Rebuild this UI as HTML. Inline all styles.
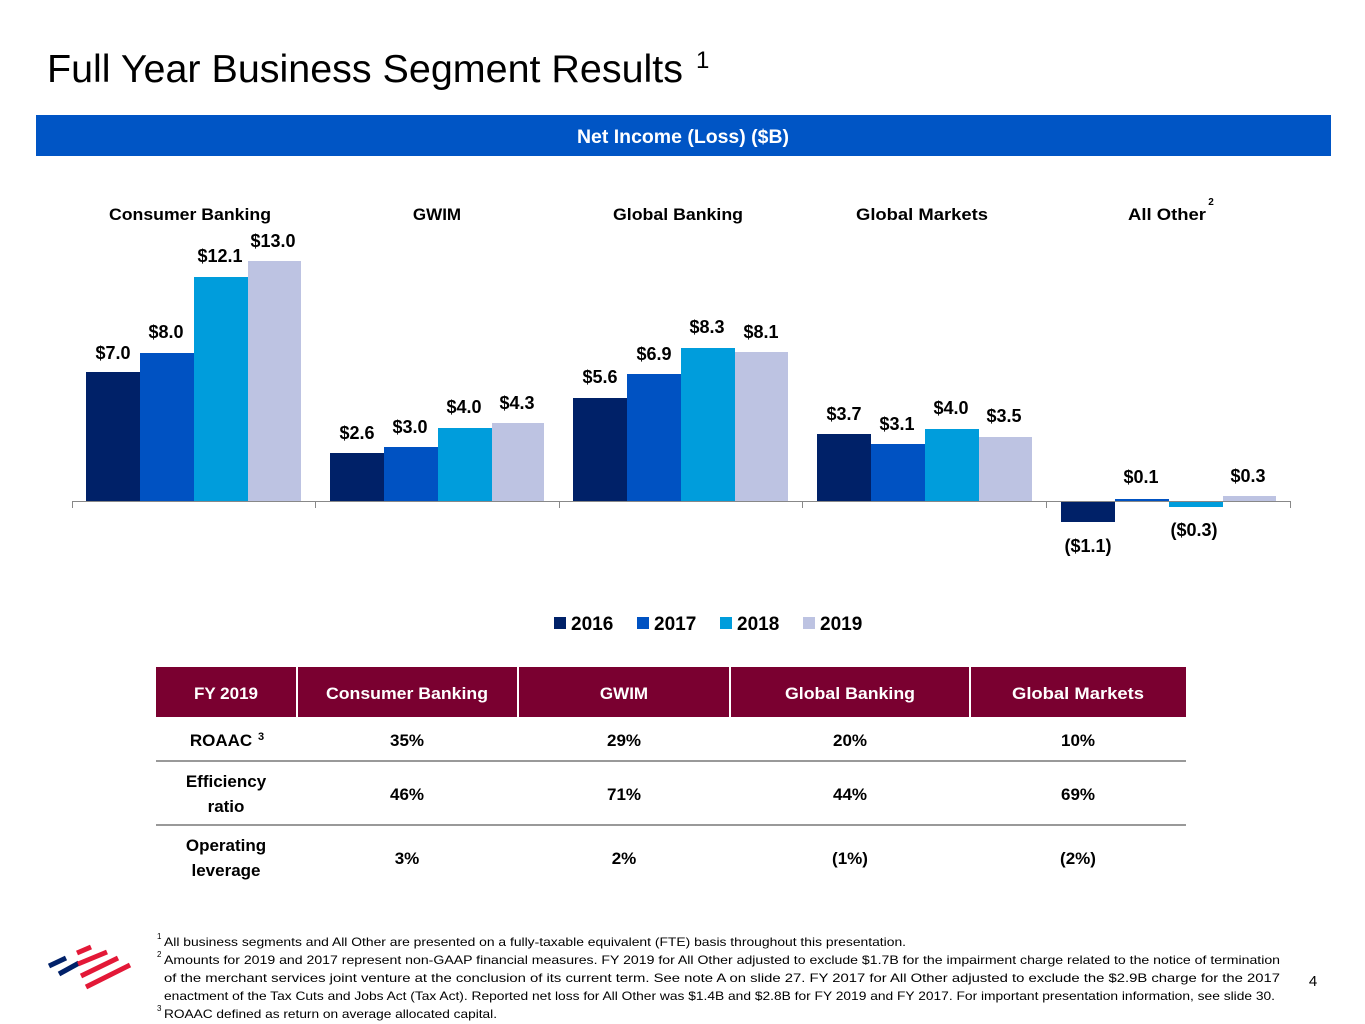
<!DOCTYPE html>
<html><head><meta charset="utf-8"><style>
html,body{margin:0;padding:0;background:#fff;}
svg{display:block;font-family:"Liberation Sans",sans-serif;}
.b{font-weight:bold;}
</style></head><body>
<svg width="1365" height="1024" viewBox="0 0 1365 1024" xmlns="http://www.w3.org/2000/svg">
<rect width="1365" height="1024" fill="#fff"/>
<text x="47" y="82" font-size="39" fill="#000" textLength="636" lengthAdjust="spacingAndGlyphs">Full Year Business Segment Results</text>
<text x="696" y="68" font-size="24" fill="#000">1</text>
<rect x="36" y="115" width="1295" height="41" fill="#0055c5"/>
<text x="683" y="143" font-size="19" fill="#fff" class="b" text-anchor="middle" textLength="212" lengthAdjust="spacingAndGlyphs">Net Income (Loss) ($B)</text>

<g font-size="17" class="b" fill="#000" text-anchor="middle">
<text x="190" y="220" textLength="162" lengthAdjust="spacingAndGlyphs">Consumer Banking</text>
<text x="437" y="220">GWIM</text>
<text x="678" y="220" textLength="130" lengthAdjust="spacingAndGlyphs">Global Banking</text>
<text x="922" y="220" textLength="132" lengthAdjust="spacingAndGlyphs">Global Markets</text>
<text x="1167" y="220" textLength="78" lengthAdjust="spacingAndGlyphs">All Other</text>
<text x="1211" y="205" font-size="10">2</text>
</g>

<g>
<rect x="86" y="372" width="54" height="129" fill="#002168"/>
<rect x="140" y="353" width="54" height="148" fill="#0052c2"/>
<rect x="194" y="277" width="54" height="224" fill="#009ddc"/>
<rect x="248" y="261" width="53" height="240" fill="#bdc3e2"/>

<rect x="330" y="453" width="54" height="48" fill="#002168"/>
<rect x="384" y="447" width="54" height="54" fill="#0052c2"/>
<rect x="438" y="428" width="54" height="73" fill="#009ddc"/>
<rect x="492" y="423" width="52" height="78" fill="#bdc3e2"/>

<rect x="573" y="398" width="54" height="103" fill="#002168"/>
<rect x="627" y="374" width="54" height="127" fill="#0052c2"/>
<rect x="681" y="348" width="54" height="153" fill="#009ddc"/>
<rect x="735" y="352" width="53" height="149" fill="#bdc3e2"/>

<rect x="817" y="434" width="54" height="67" fill="#002168"/>
<rect x="871" y="444" width="54" height="57" fill="#0052c2"/>
<rect x="925" y="429" width="54" height="72" fill="#009ddc"/>
<rect x="979" y="437" width="53" height="64" fill="#bdc3e2"/>

<rect x="1061" y="501" width="54" height="21" fill="#002168"/>
<rect x="1115" y="499" width="54" height="2" fill="#0052c2"/>
<rect x="1169" y="501" width="54" height="6" fill="#009ddc"/>
<rect x="1223" y="496" width="53" height="5" fill="#bdc3e2"/>
</g>
<g stroke="#888" stroke-width="1">
<line x1="72" y1="501.5" x2="1290" y2="501.5"/>
<line x1="72.5" y1="501" x2="72.5" y2="508"/>
<line x1="315.5" y1="501" x2="315.5" y2="508"/>
<line x1="559.5" y1="501" x2="559.5" y2="508"/>
<line x1="802.5" y1="501" x2="802.5" y2="508"/>
<line x1="1046.5" y1="501" x2="1046.5" y2="508"/>
<line x1="1290.5" y1="501" x2="1290.5" y2="508"/>
</g>

<g font-size="18" class="b" fill="#000" text-anchor="middle">
<text x="113" y="359">$7.0</text>
<text x="166" y="338">$8.0</text>
<text x="220" y="262">$12.1</text>
<text x="273" y="247">$13.0</text>
<text x="357" y="439">$2.6</text>
<text x="410" y="433">$3.0</text>
<text x="464" y="413">$4.0</text>
<text x="517" y="409">$4.3</text>
<text x="600" y="383">$5.6</text>
<text x="654" y="360">$6.9</text>
<text x="707" y="333">$8.3</text>
<text x="761" y="338">$8.1</text>
<text x="844" y="420">$3.7</text>
<text x="897" y="430">$3.1</text>
<text x="951" y="414">$4.0</text>
<text x="1004" y="422">$3.5</text>
<text x="1141" y="483">$0.1</text>
<text x="1248" y="482">$0.3</text>
<text x="1088" y="552">($1.1)</text>
<text x="1194" y="536">($0.3)</text>
</g>

<rect x="554" y="617" width="12" height="12" fill="#002168"/>
<rect x="637" y="617" width="12" height="12" fill="#0052c2"/>
<rect x="720" y="617" width="12" height="12" fill="#009ddc"/>
<rect x="803" y="617" width="12" height="12" fill="#bdc3e2"/>
<g font-size="19" class="b" fill="#000">
<text x="571" y="630">2016</text>
<text x="654" y="630">2017</text>
<text x="737" y="630">2018</text>
<text x="820" y="630">2019</text>
</g>

<rect x="156" y="667" width="1030" height="50" fill="#7a0030"/>
<g stroke="#fff" stroke-width="2">
<line x1="297" y1="667" x2="297" y2="717"/>
<line x1="518" y1="667" x2="518" y2="717"/>
<line x1="730" y1="667" x2="730" y2="717"/>
<line x1="970" y1="667" x2="970" y2="717"/>
</g>
<g font-size="17" class="b" fill="#fff" text-anchor="middle">
<text x="226" y="699">FY 2019</text>
<text x="407" y="699" textLength="162" lengthAdjust="spacingAndGlyphs">Consumer Banking</text>
<text x="624" y="699">GWIM</text>
<text x="850" y="699" textLength="130" lengthAdjust="spacingAndGlyphs">Global Banking</text>
<text x="1078" y="699" textLength="132" lengthAdjust="spacingAndGlyphs">Global Markets</text>
</g>
<g stroke="#999" stroke-width="2">
<line x1="156" y1="761" x2="1186" y2="761"/>
<line x1="156" y1="825" x2="1186" y2="825"/>
</g>
<g font-size="17" class="b" fill="#000" text-anchor="middle">
<text x="221" y="746">ROAAC</text><text x="261" y="740" font-size="11">3</text>
<text x="407" y="746">35%</text><text x="624" y="746">29%</text><text x="850" y="746">20%</text><text x="1078" y="746">10%</text>
<text x="226" y="787">Efficiency</text><text x="226" y="812">ratio</text>
<text x="407" y="800">46%</text><text x="624" y="800">71%</text><text x="850" y="800">44%</text><text x="1078" y="800">69%</text>
<text x="226" y="851">Operating</text><text x="226" y="876">leverage</text>
<text x="407" y="864">3%</text><text x="624" y="864">2%</text><text x="850" y="864">(1%)</text><text x="1078" y="864">(2%)</text>
</g>

<g font-size="12" fill="#000">
<text x="157" y="939" font-size="8">1</text>
<text x="164" y="946" textLength="742" lengthAdjust="spacingAndGlyphs">All business segments and All Other are presented on a fully-taxable equivalent (FTE) basis throughout this presentation.</text>
<text x="157" y="957" font-size="8">2</text>
<text x="164" y="964" textLength="1116" lengthAdjust="spacingAndGlyphs">Amounts for 2019 and 2017 represent non-GAAP financial measures. FY 2019 for All Other adjusted to exclude $1.7B for the impairment charge related to the notice of termination</text>
<text x="164" y="982" textLength="1116" lengthAdjust="spacingAndGlyphs">of the merchant services joint venture at the conclusion of its current term. See note A on slide 27. FY 2017 for All Other adjusted to exclude the $2.9B charge for the 2017</text>
<text x="164" y="1000" textLength="1111" lengthAdjust="spacingAndGlyphs">enactment of the Tax Cuts and Jobs Act (Tax Act). Reported net loss for All Other was $1.4B and $2.8B for FY 2019 and FY 2017. For important presentation information, see slide 30.</text>
<text x="157" y="1011" font-size="8">3</text>
<text x="164" y="1018" textLength="333" lengthAdjust="spacingAndGlyphs">ROAAC defined as return on average allocated capital.</text>
</g>
<text x="1313" y="986" font-size="15" fill="#000" text-anchor="middle">4</text>

<g stroke-linecap="butt" stroke-width="5">
<line x1="49" y1="966" x2="66" y2="958" stroke="#012169"/>
<line x1="59" y1="974" x2="79" y2="963" stroke="#012169"/>
<line x1="77" y1="953" x2="91" y2="947" stroke="#e31837"/>
<line x1="78" y1="964" x2="107" y2="952" stroke="#e31837"/>
<line x1="81" y1="976" x2="118" y2="958" stroke="#e31837"/>
<line x1="86" y1="987" x2="130" y2="965" stroke="#e31837"/>
</g>
</svg>
</body></html>
